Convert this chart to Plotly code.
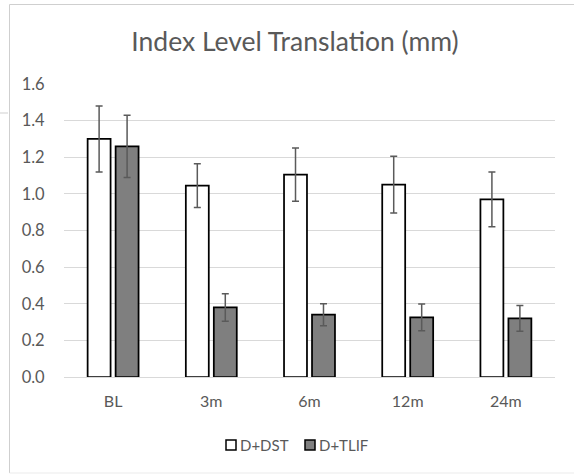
import plotly.graph_objects as go

categories = ["BL", "3m", "6m", "12m", "24m"]
dst_values = [1.30, 1.045, 1.105, 1.05, 0.97]
dst_errors = [0.18, 0.12, 0.145, 0.155, 0.15]
tlif_values = [1.26, 0.38, 0.34, 0.325, 0.32]
tlif_errors = [0.17, 0.075, 0.06, 0.073, 0.07]
y_ticks = [0.0, 0.2, 0.4, 0.6, 0.8, 1.0, 1.2, 1.4, 1.6]
y_tick_labels = ["0.0", "0.2", "0.4", "0.6", "0.8", "1.0", "1.2", "1.4", "1.6"]
series_names = ["D+DST", "D+TLIF"]
series_fills = ["white", "#7f7f7f"]
title_text = "Index Level Translation (mm)"

FONT = "Lato"
TXT = "#595959"
W, H = 574, 475
L, R, T, B = 64, 19, 84, 98
pw, ph = W - L - R, H - T - B

def px_x(x):
    return (x - L) / pw

def px_y(y):
    return (H - B - y) / ph

fig = go.Figure()
for name, vals, errs, fill in zip(series_names, [dst_values, tlif_values],
                                  [dst_errors, tlif_errors], series_fills):
    fig.add_trace(go.Bar(
        name=name, x=categories, y=vals,
        marker=dict(color=fill, line=dict(color="black", width=1.75)),
        error_y=dict(type="data", array=errs, visible=True,
                     color="#5a5a5a", thickness=1.5, width=3.5),
    ))

# manual legend (Excel style: small square right next to the label)
legend_shapes = []
legend_annots = []
legend_x = [226, 305]
legend_yc = 445
for lx, name, fill in zip(legend_x, series_names, series_fills):
    legend_shapes.append(dict(type="rect", xref="paper", yref="paper",
                              x0=px_x(lx), x1=px_x(lx + 10),
                              y0=px_y(legend_yc + 5), y1=px_y(legend_yc - 5),
                              fillcolor=fill, line=dict(color="black", width=1.5)))
    legend_annots.append(dict(text=name, xref="paper", yref="paper",
                              x=px_x(lx + 12), y=px_y(legend_yc), xanchor="left",
                              yanchor="middle", showarrow=False,
                              font=dict(family=FONT, size=15, color=TXT)))

frame = [
    dict(type="line", xref="paper", yref="paper",
         x0=px_x(9.5), x1=px_x(580), y0=px_y(4.5), y1=px_y(4.5),
         line=dict(color="#cfcfcf", width=1)),
    dict(type="line", xref="paper", yref="paper",
         x0=px_x(9.5), x1=px_x(9.5), y0=px_y(4.5), y1=px_y(473),
         line=dict(color="#cfcfcf", width=1)),
    dict(type="line", xref="paper", yref="paper",
         x0=px_x(9.5), x1=px_x(580), y0=px_y(473), y1=px_y(473),
         line=dict(color="#ebebeb", width=1)),
    dict(type="line", xref="paper", yref="paper",
         x0=px_x(0), x1=px_x(8), y0=px_y(113), y1=px_y(113),
         line=dict(color="#cfcfcf", width=1)),
]

fig.update_layout(
    width=W, height=H,
    margin=dict(l=L, r=R, t=T, b=B, autoexpand=False),
    paper_bgcolor="white", plot_bgcolor="white",
    barmode="group", bargap=0.43, bargroupgap=0.18,
    font=dict(family=FONT, color=TXT, size=15),
    title=dict(text=title_text, x=px_x(295), xref="paper", xanchor="center",
               y=1 - 42 / H, yref="container", yanchor="middle",
               font=dict(family=FONT, size=26.5, color=TXT)),
    showlegend=False,
    shapes=frame + legend_shapes,
    annotations=legend_annots,
    xaxis=dict(type="category", showgrid=False, showline=True,
               linecolor="#d9d9d9", linewidth=1,
               ticks="outside", ticklen=10, tickcolor="rgba(0,0,0,0)",
               tickfont=dict(family=FONT, size=16, color=TXT), fixedrange=True),
    yaxis=dict(range=[0, 1.6], tickvals=y_ticks, ticktext=y_tick_labels,
               showgrid=True, gridcolor="#d9d9d9", gridwidth=1,
               zeroline=True, zerolinecolor="#d9d9d9", zerolinewidth=1,
               showline=False, ticks="outside", ticklen=15,
               tickcolor="rgba(0,0,0,0)",
               tickfont=dict(family=FONT, size=16.5, color=TXT), fixedrange=True),
)

fig.write_html("out.html", config={"displayModeBar": False},
               post_script="document.body.style.margin='0';")
